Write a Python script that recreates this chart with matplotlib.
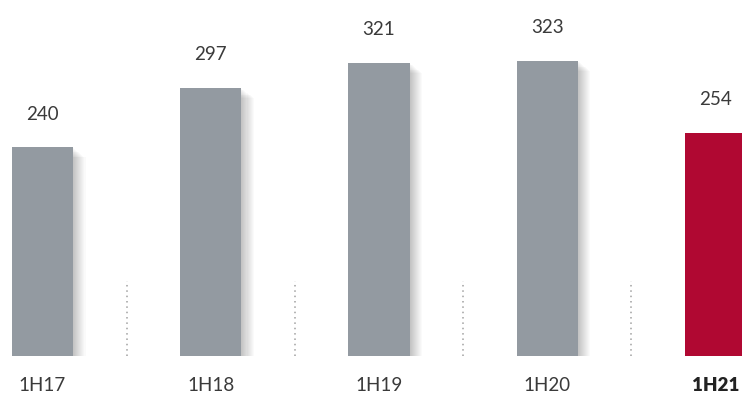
import matplotlib.pyplot as plt
import matplotlib.patheffects as pe

# half-year values
periods = ['1H17', '1H18', '1H19', '1H20', '1H21']
values = [240, 297, 321, 323, 254]
colors = ['#939aa1', '#939aa1', '#939aa1', '#939aa1', '#b00832']

plt.rcParams['font.family'] = ['Lato', 'DejaVu Sans']

fig = plt.figure(figsize=(7.42, 4.12), dpi=100)
ax = fig.add_axes([0, 56 / 412, 1, 356 / 412])

pos = [42.5, 210.75, 379.0, 547.25, 715.5]
xpos = [(p - 42.5) / 168.25 for p in pos]

# soft shadow built from several offset copies
shadow = []
for k in range(1, 13):
    shadow.append(pe.SimplePatchShadow(offset=(k * 0.75, -k * 0.6), shadow_rgbFace='black', alpha=0.018))
shadow.append(pe.Normal())

bars = ax.bar(xpos, values, width=0.3626, color=colors, zorder=3)
for b in bars:
    b.set_path_effects(shadow)

for x, v in zip(xpos, values):
    ax.annotate(str(v), (x, v), xytext=(0, 24), textcoords='offset points',
                ha='center', va='center', fontsize=13.5, color='#3a3a3a')

# dotted separators between periods
for i in range(len(values) - 1):
    ax.axvline((xpos[i] + xpos[i + 1]) / 2, ymin=0.0, ymax=0.21,
               color='#a0a0a0', linestyle=(0, (1, 2.5)), linewidth=1.1, zorder=1)

ax.set_xlim(-42.5 / 168.25, (742 - 42.5) / 168.25)
ax.set_ylim(40, 40 + 356 / 1.043)
ax.set_xticks(xpos)
ax.set_xticklabels(periods, fontsize=13.5, color='#3a3a3a')
ax.get_xticklabels()[-1].set_fontweight('heavy')
ax.get_xticklabels()[-1].set_color('#222222')
ax.tick_params(axis='x', length=0, pad=15)
ax.set_yticks([])
for s in ax.spines.values():
    s.set_visible(False)

fig.savefig('out.png', dpi=100)
